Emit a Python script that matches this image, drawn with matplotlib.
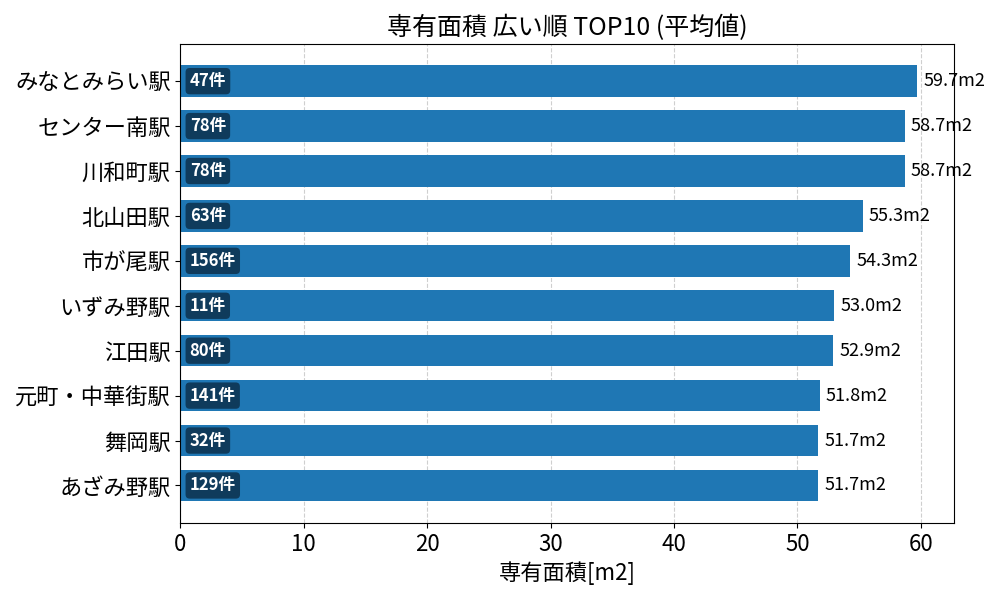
import matplotlib.pyplot as plt

plt.rcParams['font.family'] = ['Noto Sans CJK JP', 'DejaVu Sans']

stations = ["みなとみらい駅", "センター南駅", "川和町駅", "北山田駅", "市が尾駅",
            "いずみ野駅", "江田駅", "元町・中華街駅", "舞岡駅", "あざみ野駅"]
areas = [59.7, 58.7, 58.7, 55.3, 54.3, 53.0, 52.9, 51.8, 51.7, 51.7]
counts = [47, 78, 78, 63, 156, 11, 80, 141, 32, 129]

fig, ax = plt.subplots(figsize=(10, 6), dpi=100)
ypos = list(range(len(stations)))[::-1]
ax.barh(ypos, areas, height=0.7, color="#1f77b4", zorder=2)
ax.set_yticks(ypos)
ax.set_yticklabels(stations, fontsize=16)
ax.tick_params(axis="x", labelsize=16)

for y, a, c in zip(ypos, areas, counts):
    ax.text(a + 0.5, y, "{:.1f}m2".format(a), va="center", ha="left", fontsize=13)
    ax.text(0.75, y, "{}件".format(c), va="center", ha="left", fontsize=12,
            color="white", fontweight="bold", zorder=3,
            bbox=dict(boxstyle="round,pad=0.25", fc="#0f3b5c", ec="none"))

ax.set_xlim(0, max(areas) * 1.05)
ax.grid(axis="x", linestyle="--", alpha=0.6, zorder=0)
ax.set_xlabel("専有面積[m2]", fontsize=16)
ax.set_title("専有面積 広い順 TOP10 (平均値)", fontsize=18)

plt.tight_layout()
plt.savefig("out.png", dpi=100)
